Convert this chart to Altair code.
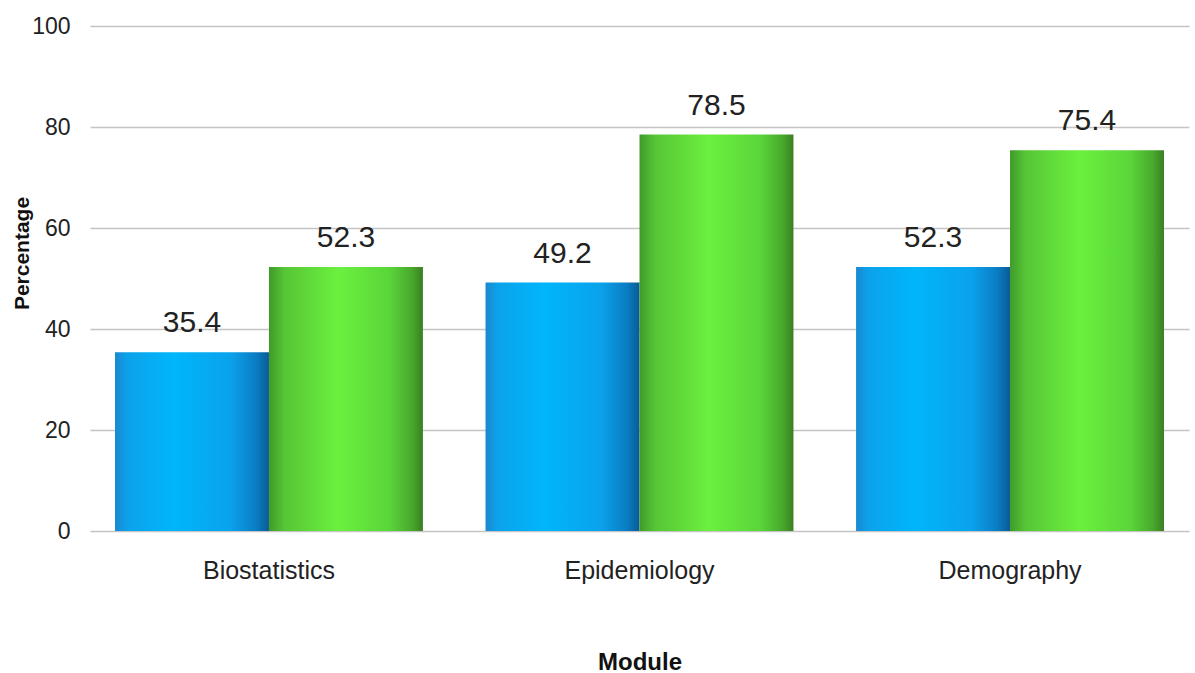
import altair as alt
import pandas as pd

# Chart data
modules = ["Biostatistics", "Epidemiology", "Demography"]
series = ["Series 1", "Series 2"]
series1_values = [35.4, 49.2, 52.3]
series2_values = [52.3, 78.5, 75.4]
y_ticks = [0, 20, 40, 60, 80, 100]

rows = []
for m, v in zip(modules, series1_values):
    rows.append({"module": m, "series": series[0], "value": v})
for m, v in zip(modules, series2_values):
    rows.append({"module": m, "series": series[1], "value": v})
df = pd.DataFrame(rows)

FONT = "Liberation Sans"

# Cylinder-like horizontal shading for each series
blue_fill = alt.Gradient(
    gradient="linear", x1=0, x2=1, y1=0, y2=0,
    stops=[
        alt.GradientStop(offset=0.0, color="#1a88d0"),
        alt.GradientStop(offset=0.08, color="#0ca2ea"),
        alt.GradientStop(offset=0.38, color="#00b6fc"),
        alt.GradientStop(offset=0.75, color="#0aa2ec"),
        alt.GradientStop(offset=0.92, color="#0a7cc2"),
        alt.GradientStop(offset=1.0, color="#0a5a96"),
    ],
)
green_fill = alt.Gradient(
    gradient="linear", x1=0, x2=1, y1=0, y2=0,
    stops=[
        alt.GradientStop(offset=0.0, color="#3f9a2a"),
        alt.GradientStop(offset=0.1, color="#56c536"),
        alt.GradientStop(offset=0.45, color="#6cf03e"),
        alt.GradientStop(offset=0.78, color="#5ad63a"),
        alt.GradientStop(offset=0.93, color="#48a82c"),
        alt.GradientStop(offset=1.0, color="#3a7f22"),
    ],
)

x_enc = alt.X(
    "module:N",
    sort=modules,
    scale=alt.Scale(paddingInner=0.169, paddingOuter=0.0675),
    axis=alt.Axis(
        title="Module",
        labelAngle=0,
        labelFont=FONT,
        labelFontSize=25,
        labelColor="#222222",
        labelPadding=27,
        labelBaseline="top",
        domain=False,
        ticks=False,
        grid=False,
        titleFont=FONT,
        titleFontSize=24,
        titleFontWeight="bold",
        titleColor="#111111",
        titleY=131,
        titleBaseline="middle",
    ),
)
xoff_enc = alt.XOffset(
    "series:N", sort=series, scale=alt.Scale(paddingInner=0, paddingOuter=0)
)
y_enc = alt.Y(
    "value:Q",
    scale=alt.Scale(domain=[0, 100], nice=False),
    axis=alt.Axis(
        title="Percentage",
        values=y_ticks,
        labelFont=FONT,
        labelFontSize=23,
        labelColor="#222222",
        labelPadding=20,
        domain=False,
        ticks=False,
        grid=True,
        gridColor="#c4c4c4",
        gridWidth=1.6,
        titleFont=FONT,
        titleFontSize=21,
        titleFontWeight="bold",
        titleColor="#111111",
        titleX=-68,
        titleY=227,
        titleAngle=-90,
        titleAlign="center",
        titleBaseline="middle",
    ),
)

base = alt.Chart(df).encode(x=x_enc, xOffset=xoff_enc, y=y_enc)

bars1 = base.transform_filter(alt.datum.series == series[0]).mark_bar(
    color=blue_fill
)
bars2 = base.transform_filter(alt.datum.series == series[1]).mark_bar(
    color=green_fill
)
labels = base.mark_text(
    baseline="bottom", dy=-14, font=FONT, fontSize=30, color="#222222"
).encode(text=alt.Text("value:Q", format=".1f"))

chart = (
    alt.layer(bars1, bars2, labels)
    .properties(
        width=1099,
        height=505,
        autosize=alt.AutoSizeParams(type="none"),
        padding={"left": 90, "top": 26, "right": 6, "bottom": 142},
        background="white",
    )
    .configure_view(stroke=None)
)

chart.save("out.html", embed_options={"renderer": "svg", "actions": False})
